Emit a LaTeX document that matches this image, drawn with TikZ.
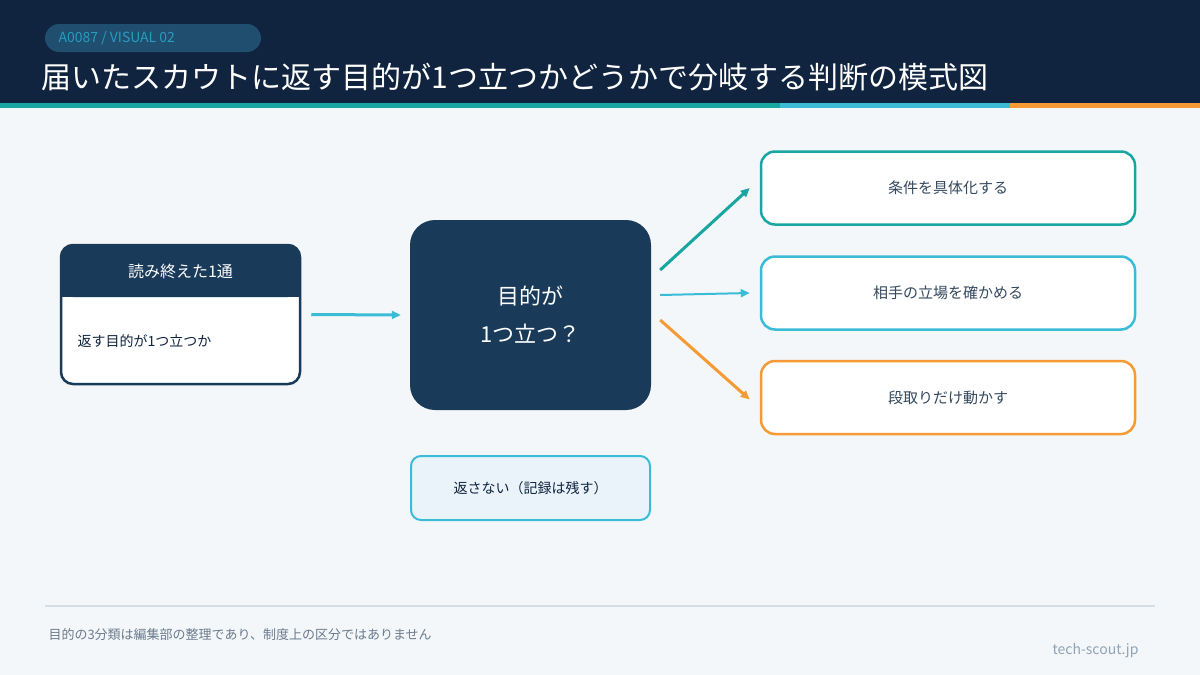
\documentclass[tikz,border=0pt]{standalone}
\usepackage{fontspec}
\setmainfont{Noto Sans CJK JP}
\usetikzlibrary{arrows.meta}
\definecolor{navy}{HTML}{10243F}
\definecolor{boxnavy}{HTML}{1A3A5A}
\definecolor{teal}{HTML}{17A6A0}
\definecolor{sky}{HTML}{3BBCD6}
\definecolor{amber}{HTML}{F59A35}
\definecolor{pale}{HTML}{F3F7FA}
\definecolor{ink}{HTML}{34495E}
\definecolor{pill}{HTML}{1F4E6E}
\definecolor{pilltext}{HTML}{2A9BC0}
\definecolor{rule}{HTML}{D5DEE5}
\definecolor{note}{HTML}{6B7B8C}
\definecolor{site}{HTML}{8FA3B5}
\definecolor{mist}{HTML}{EAF3FA}
\tikzset{
	choice/.style={draw=#1, line width=2.5pt, fill=white, rounded corners=14pt,
		minimum width=374pt, minimum height=73pt, text=ink, font=\fontsize{15}{18}\selectfont},
	flow/.style={draw=#1, line width=3pt, -{Triangle[length=9pt,width=8pt]}},
}
\begin{document}
\begin{tikzpicture}[x=1pt,y=-1pt]
		\useasboundingbox (0,0) rectangle (1200,675);
		\fill[pale] (0,0) rectangle (1200,675);
		\fill[navy] (0,0) rectangle (1200,103);
		\fill[teal] (0,103) rectangle (780,108);
		\fill[sky] (780,103) rectangle (1010,108);
		\fill[amber] (1010,103) rectangle (1200,108);
		\fill[pill, rounded corners=14pt] (45,24) rectangle (261,52);
		\node[anchor=west, text=pilltext, font=\fontsize{14}{16}\selectfont] (tag) at (55,38) {A0087 / VISUAL 02};
		\node[anchor=west, text=white, font=\fontsize{30}{34}\selectfont] (title) at (38,77) {届いたスカウトに返す目的が1つ立つかどうかで分岐する判断の模式図};
		
		% left card
		\node[draw=boxnavy, line width=2.5pt, fill=white, rounded corners=12pt, minimum width=239pt, minimum height=139pt] (card) at (180.5,314.5) {};
		\fill[boxnavy, rounded corners=12pt] (61,245) rectangle (300,297);
		\fill[boxnavy] (61,280) rectangle (300,297);
		\node[text=white, font=\fontsize{16}{18}\selectfont] (cardhead) at (180.5,271) {読み終えた1通};
		\node[anchor=west, text=navy, font=\fontsize{14}{16}\selectfont] (cardbody) at (74,341) {返す目的が1つ立つか};
		
		% question
		\node[fill=boxnavy, rounded corners=25pt, minimum width=241pt, minimum height=190pt, text=white, align=center,
			font=\fontsize{22}{38}\selectfont] (q) at (530.5,315) {目的が\\1つ立つ？};
		\draw[flow=sky] ([xshift=10pt]card.east) -- ([xshift=-9pt]q.west);
		
		% outcomes
		\node[choice=teal] (a) at (948,188) {条件を具体化する};
		\node[choice=sky] (b) at (948,293) {相手の立場を確かめる};
		\node[choice=amber] (c) at (948,397.5) {段取りだけ動かす};
		\draw[flow=teal] ([xshift=9pt,yshift=45pt]q.east) -- ([xshift=-10pt]a.west);
		\draw[flow=sky, line width=2pt] ([xshift=9pt,yshift=20pt]q.east) -- ([xshift=-10pt]b.west);
		\draw[flow=amber] ([xshift=9pt,yshift=-5pt]q.east) -- ([xshift=-10pt,yshift=-2pt]c.west);
		
		\node[draw=sky, line width=2pt, fill=mist, rounded corners=10pt, minimum width=239pt, minimum height=64pt,
			text=navy, font=\fontsize{14}{16}\selectfont] (none) at (530.5,488) {返さない（記録は残す）};
		
		% footer
		\draw[line width=1.5pt, rule] (45,606) -- (1155,606);
		\node[anchor=west, text=note, font=\fontsize{13}{15}\selectfont] (note) at (45,635) {目的の3分類は編集部の整理であり、制度上の区分ではありません};
		\node[anchor=east, text=site, font=\fontsize{14}{16}\selectfont] (site) at (1142,651) {tech-scout.jp};
	\end{tikzpicture}
\end{document}
